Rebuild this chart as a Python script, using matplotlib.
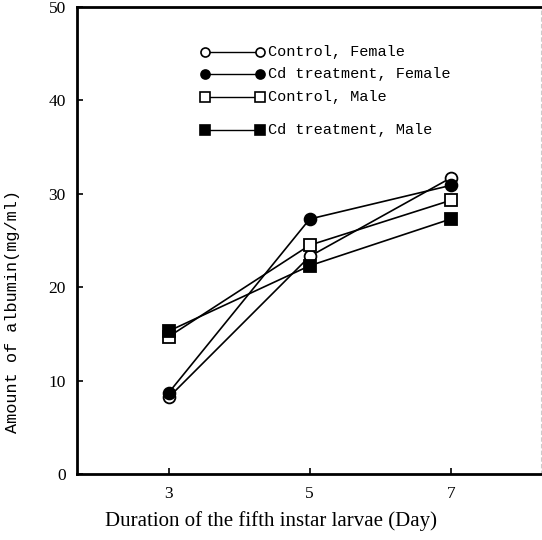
import matplotlib
matplotlib.use("Agg")
import matplotlib.pyplot as plt

days = [3, 5, 7]
control_female = [8.2, 23.3, 31.7]
cd_female = [8.7, 27.3, 30.9]
control_male = [14.7, 24.5, 29.3]
cd_male = [15.3, 22.3, 27.3]

labels = ["Control, Female", "Cd treatment, Female", "Control, Male", "Cd treatment, Male"]
xticks = [3, 5, 7]
yticks = [0, 10, 20, 30, 40, 50]

series = [
    (control_female, "o", "white"),
    (cd_female, "o", "black"),
    (control_male, "s", "white"),
    (cd_male, "s", "black"),
]

fig = plt.figure(figsize=(5.42, 5.40), dpi=100)
ax = fig.add_axes([77/542, (540-474)/540, 464/542, 467/540])

for vals, mk, fc in series:
    ax.plot(days, vals, color="black", lw=1.2, marker=mk, mfc=fc, mec="black",
            mew=1.3, ms=8.5 if mk == "o" else 8, zorder=3)

ax.set_xlim(1.7, 8.28)
ax.set_ylim(0, 50)
ax.set_xticks(xticks)
ax.set_yticks(yticks)
ax.set_xticklabels([str(t) for t in xticks], family="Liberation Serif", fontsize=12.5)
ax.set_yticklabels([str(t) for t in yticks], family="Liberation Serif", fontsize=12.5)
ax.tick_params(direction="in", length=4, width=1.2, pad=8)
ax.tick_params(axis="x", pad=9)

for s in ["left", "top", "bottom"]:
    ax.spines[s].set_linewidth(2)
ax.spines["right"].set_color("#cccccc")
ax.spines["right"].set_linewidth(0.8)
ax.spines["right"].set_linestyle((0, (3, 3)))

ax.set_xlabel("Duration of the fifth instar larvae (Day)", family="Liberation Serif",
              fontsize=15)
ax.xaxis.set_label_coords(0.418, -0.079)
ax.set_ylabel("Amount of albumin(mg/ml)", family="Liberation Mono", fontsize=12.2)
ax.yaxis.set_label_coords(-0.14, 0.347)
ax.yaxis.label.set_va("center")

# manual legend
rows_y = [0.904, 0.857, 0.807, 0.737]
x0, x1, xt = 0.276, 0.394, 0.412
for (vals, mk, fc), lab, yy in zip(series, labels, rows_y):
    ax.plot([x0, x1], [yy, yy], transform=ax.transAxes, color="black", lw=1.0,
            marker=mk, mfc=fc, mec="black", mew=1.2, ms=6.5, clip_on=False)
    ax.text(xt, yy, lab, transform=ax.transAxes, family="Liberation Mono",
            fontsize=11, va="center", ha="left")

fig.savefig("out.png", dpi=100)
